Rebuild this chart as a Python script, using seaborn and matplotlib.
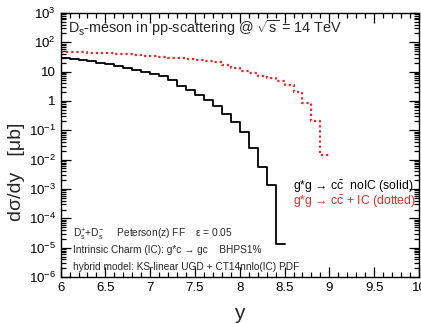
import numpy as np
import pandas as pd
import matplotlib
matplotlib.use("Agg")
import matplotlib.pyplot as plt
import seaborn as sns
from matplotlib.ticker import MultipleLocator, LogLocator, FuncFormatter, NullFormatter

# ---- data ----
edges_noIC = [6.0, 6.1, 6.2, 6.3, 6.4, 6.5, 6.6, 6.7, 6.8, 6.9, 7.0, 7.1, 7.2,
              7.3, 7.4, 7.5, 7.6, 7.7, 7.8, 7.9, 8.0, 8.1, 8.2, 8.3, 8.4, 8.5]
dsig_noIC = [30.3, 28.0, 25.3, 22.7, 20.3, 17.9, 15.8, 13.7, 11.8, 10.1, 8.6,
             7.08, 5.37, 3.35, 2.36, 1.62, 1.09, 0.686, 0.371, 0.186, 0.0869,
             0.0257, 0.00555, 0.00135, 1.38e-5]

edges_IC = [6.0, 6.1, 6.2, 6.3, 6.4, 6.5, 6.6, 6.7, 6.8, 6.9, 7.0, 7.1, 7.2,
            7.3, 7.4, 7.5, 7.6, 7.7, 7.8, 7.9, 8.0, 8.1, 8.2, 8.3, 8.4, 8.5,
            8.6, 8.7, 8.8, 8.9, 9.0]
dsig_IC = [47.8, 46.6, 45.6, 44.5, 43.1, 41.8, 40.5, 38.9, 37.2, 35.4, 33.8,
           32.0, 30.3, 28.4, 26.7, 24.9, 23.0, 20.9, 17.5, 13.8, 10.9, 8.75,
           7.24, 5.91, 4.97, 3.49, 2.01, 0.869, 0.201, 0.0143]

x_ticks = [6, 6.5, 7, 7.5, 8, 8.5, 9, 9.5, 10]
x_ticklabels = ["6", "6.5", "7", "7.5", "8", "8.5", "9", "9.5", "10"]

title_text = r"D$_{\rm s}$-meson in pp-scattering @ $\sqrt{\rm s}$ = 14 TeV"
label_noIC = r"g*g → c$\bar{\rm c}$  noIC (solid)"
label_IC = r"g*g → c$\bar{\rm c}$ + IC (dotted)"
info_lines = [
    r"D$_{\rm s}^{+}$+D$_{\rm s}^{-}$     Peterson(z) FF    ε = 0.05",
    "Intrinsic Charm (IC): g*c → gc    BHPS1%",
    "hybrid model: KS-linear UGD + CT14nnlo(IC) PDF",
]

# ---- style ----
sns.set_style("ticks")
plt.rcParams["font.family"] = ["Liberation Sans", "DejaVu Sans"]
plt.rcParams["mathtext.fontset"] = "custom"
plt.rcParams["mathtext.rm"] = "Liberation Sans"
plt.rcParams["mathtext.it"] = "Liberation Sans:italic"
plt.rcParams["mathtext.bf"] = "Liberation Sans:bold"
plt.rcParams["mathtext.sf"] = "Liberation Sans"

fig = plt.figure(figsize=(4.21, 3.24), dpi=100)
ax = fig.add_axes([0.144, 0.145, 0.851, 0.815])

df_noIC = pd.DataFrame({"y": edges_noIC, "v": dsig_noIC + [dsig_noIC[-1]]})
df_IC = pd.DataFrame({"y": edges_IC, "v": dsig_IC + [dsig_IC[-1]]})

sns.lineplot(data=df_IC, x="y", y="v", ax=ax, color="#dd2b2b",
             drawstyle="steps-post", estimator=None, lw=1.6,
             linestyle=(0, (1, 1.3)))
sns.lineplot(data=df_noIC, x="y", y="v", ax=ax, color="black",
             drawstyle="steps-post", estimator=None, lw=1.3)

ax.set_yscale("log")
ax.set_xlim(6, 10)
ax.set_ylim(1e-6, 1e3)

ax.set_xticks(x_ticks)
ax.set_xticklabels(x_ticklabels)
ax.xaxis.set_minor_locator(MultipleLocator(0.1))
ax.yaxis.set_major_locator(LogLocator(base=10, numticks=20))
ax.yaxis.set_minor_locator(LogLocator(base=10, subs=np.arange(2, 10), numticks=20))
ax.yaxis.set_minor_formatter(NullFormatter())


def yfmt(v, pos):
    e = int(round(np.log10(v)))
    if e == 1:
        return "10"
    if e == 0:
        return "1"
    return r"$10^{%d}$" % e


ax.yaxis.set_major_formatter(FuncFormatter(yfmt))

ax.tick_params(which="both", direction="in", top=True, right=True,
               labelsize=9.5, colors="black", width=0.9)
ax.tick_params(which="major", length=7)
ax.tick_params(which="minor", length=3.5)
for s in ax.spines.values():
    s.set_visible(True)
    s.set_linewidth(1.0)
    s.set_color("black")

ax.set_xlabel("y", fontsize=15)
ax.xaxis.label.set_va("center")
ax.xaxis.set_label_coords(0.5, -0.14)
ax.set_ylabel("dσ/dy   [μb]", fontsize=14)
ax.yaxis.label.set_va("center")
ax.yaxis.set_label_coords(-0.122, 0.40)

ax.text(0.02, 0.943, title_text, transform=ax.transAxes, fontsize=10.4,
        va="center", ha="left")
ax.text(0.648, 0.343, label_noIC, transform=ax.transAxes, fontsize=8.8,
        va="center", ha="left", color="black")
ax.text(0.648, 0.283, label_IC, transform=ax.transAxes, fontsize=8.8,
        va="center", ha="left", color="#dd2b2b")
for txt, yy in zip(info_lines, [0.158, 0.103, 0.038]):
    ax.text(0.034, yy, txt, transform=ax.transAxes, fontsize=7.3,
            va="center", ha="left")

fig.savefig("out.png", dpi=100)
